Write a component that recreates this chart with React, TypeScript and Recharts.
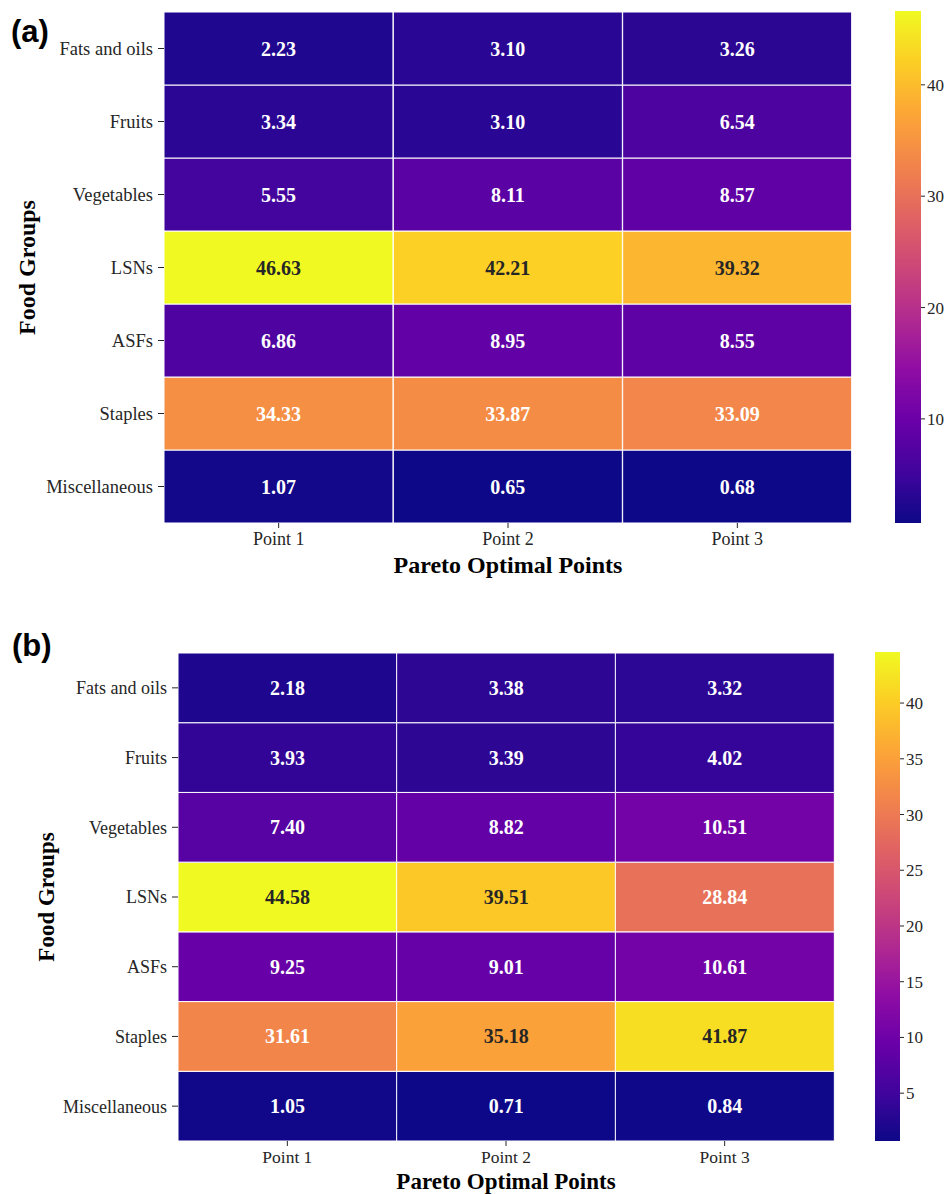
import React from 'react';
import { BarChart, Bar, XAxis, YAxis, Cell, LabelList, Label } from 'recharts';

const points = ['Point 1', 'Point 2', 'Point 3'];
const groups = ['Fats and oils', 'Fruits', 'Vegetables', 'LSNs', 'ASFs', 'Staples', 'Miscellaneous'];

// rows = food groups, columns = Point 1..3
const valuesA = [
  [2.23, 3.1, 3.26],
  [3.34, 3.1, 6.54],
  [5.55, 8.11, 8.57],
  [46.63, 42.21, 39.32],
  [6.86, 8.95, 8.55],
  [34.33, 33.87, 33.09],
  [1.07, 0.65, 0.68],
];
const valuesB = [
  [2.18, 3.38, 3.32],
  [3.93, 3.39, 4.02],
  [7.4, 8.82, 10.51],
  [44.58, 39.51, 28.84],
  [9.25, 9.01, 10.61],
  [31.61, 35.18, 41.87],
  [1.05, 0.71, 0.84],
];
const colorbarTicksA = [10, 20, 30, 40];
const colorbarTicksB = [5, 10, 15, 20, 25, 30, 35, 40];

const plasma = ['#0d0887', '#41049d', '#6a00a8', '#8f0da4', '#b12a90', '#cc4778', '#e16462', '#f2844b', '#fca636', '#fcce25', '#f0f921'];

const SERIF = '"Liberation Serif", "Times New Roman", serif';
const INK = '#262626';

const hexToRgb = (h: string) => [1, 3, 5].map((i) => parseInt(h.slice(i, i + 2), 16));

const plasmaAt = (t: number) => {
  const c = Math.max(0, Math.min(1, t)) * (plasma.length - 1);
  const i = Math.min(Math.floor(c), plasma.length - 2);
  const f = c - i;
  const a = hexToRgb(plasma[i]);
  const b = hexToRgb(plasma[i + 1]);
  return a.map((v, k) => Math.round(v + (b[k] - v) * f));
};

const luminance = (rgb: number[]) => {
  const [r, g, b] = rgb.map((c) => {
    const s = c / 255;
    return s <= 0.03928 ? s / 12.92 : Math.pow((s + 0.055) / 1.055, 2.4);
  });
  return 0.2126 * r + 0.7152 * g + 0.0722 * b;
};

const rgbStr = (c: number[]) => `rgb(${c[0]},${c[1]},${c[2]})`;

interface HeatProps {
  values: number[][];
  width: number;
  height: number;
  margin: { top: number; right: number; bottom: number; left: number };
  yAxisWidth: number;
  xAxisHeight: number;
  yTitleOffset: number;
  xTitleOffset: number;
  yTickFont: number;
  xTickFont: number;
  titleFont: number;
  xTickMargin: number;
}

const Heatmap: React.FC<HeatProps> = (p) => {
  const flat = p.values.flat();
  const vmin = Math.min(...flat);
  const vmax = Math.max(...flat);
  const colorOf = (v: number) => plasmaAt((v - vmin) / (vmax - vmin));

  const rows = points.map((pt, j) => {
    const row: Record<string, string | number> = { point: pt };
    groups.forEach((g, i) => (row[g] = p.values[i][j]));
    return row;
  });

  const renderValue = (props: any) => {
    const { x, y, width, height, value } = props;
    const c = colorOf(Number(value));
    return (
      <text
        x={Number(x) + Number(width) / 2}
        y={Number(y) + Number(height) / 2}
        textAnchor="middle"
        dominantBaseline="central"
        fill={luminance(c) > 0.408 ? INK : '#ffffff'}
        fontFamily={SERIF}
        fontWeight="bold"
        fontSize={20}
      >
        {Number(value).toFixed(2)}
      </text>
    );
  };

  return (
    <BarChart width={p.width} height={p.height} data={rows} margin={p.margin} barCategoryGap={0} barGap={0}>
      <XAxis
        dataKey="point"
        height={p.xAxisHeight}
        axisLine={false}
        tickSize={5}
        tickMargin={p.xTickMargin}
        tickLine={{ stroke: INK }}
        tick={{ fill: INK, fontSize: p.xTickFont, fontFamily: SERIF }}
      >
        <Label
          value="Pareto Optimal Points"
          position="insideBottom"
          offset={p.xTitleOffset}
          style={{ fontFamily: SERIF, fontWeight: 'bold', fontSize: p.titleFont, fill: '#000' }}
        />
      </XAxis>
      <YAxis
        type="number"
        domain={[0, groups.length]}
        ticks={groups.map((_, i) => i + 0.5)}
        tickFormatter={(v: number) => groups[groups.length - 1 - Math.floor(v)]}
        width={p.yAxisWidth}
        axisLine={false}
        tickSize={6}
        tickMargin={5}
        tickLine={{ stroke: INK }}
        tick={{ fill: INK, fontSize: p.yTickFont, fontFamily: SERIF }}
      >
        <Label
          value="Food Groups"
          angle={-90}
          position="insideLeft"
          offset={p.yTitleOffset}
          style={{ fontFamily: SERIF, fontWeight: 'bold', fontSize: p.titleFont, fill: '#000', textAnchor: 'middle' }}
        />
      </YAxis>
      {[...groups].reverse().map((g) => (
        <Bar key={g} dataKey={() => 1} stackId="cells" isAnimationActive={false}>
          {rows.map((r, j) => (
            <Cell key={j} fill={rgbStr(colorOf(Number(r[g])))} stroke="#ffffff" strokeWidth={1} />
          ))}
          <LabelList dataKey={g} content={renderValue} />
        </Bar>
      ))}
    </BarChart>
  );
};

interface BarProps {
  values: number[][];
  ticks: number[];
  id: string;
  height: number;
  top: number;
  barWidth: number;
}

const Colorbar: React.FC<BarProps> = ({ values, ticks, id, height, top, barWidth }) => {
  const flat = values.flat();
  const vmin = Math.min(...flat);
  const vmax = Math.max(...flat);
  const data = [{ name: 'cb', range: [vmin, vmax] }];
  return (
    <BarChart width={barWidth + 40} height={height} data={data} margin={{ top, right: 0, bottom: 0, left: 0 }} barCategoryGap={0}>
      <defs>
        <linearGradient id={id} x1="0" y1="1" x2="0" y2="0">
          {plasma.map((c, i) => (
            <stop key={i} offset={`${(i / (plasma.length - 1)) * 100}%`} stopColor={c} />
          ))}
        </linearGradient>
      </defs>
      <XAxis dataKey="name" hide />
      <YAxis
        type="number"
        orientation="right"
        domain={[vmin, vmax]}
        ticks={ticks}
        width={40}
        axisLine={false}
        tickSize={4}
        tickMargin={2}
        tickLine={{ stroke: INK }}
        tick={{ fill: INK, fontSize: 17, fontFamily: SERIF }}
      />
      <Bar dataKey="range" fill={`url(#${id})`} isAnimationActive={false} />
    </BarChart>
  );
};

const panelLabel: React.CSSProperties = {
  position: 'absolute',
  fontFamily: '"Liberation Sans", Arial, sans-serif',
  fontWeight: 'bold',
  fontSize: 31,
  lineHeight: 1,
  color: '#000',
};

export default function App() {
  return (
    <div style={{ position: 'absolute', left: 0, top: 0, width: 952, height: 1194, background: '#fff', overflow: 'hidden' }}>
      <div style={{ ...panelLabel, left: 11, top: 16 }}>(a)</div>
      <div style={{ position: 'absolute', left: 0, top: 0 }}>
        <Heatmap
          values={valuesA}
          width={860}
          height={600}
          margin={{ top: 12, right: 8, bottom: 0, left: 0 }}
          yAxisWidth={164}
          xAxisHeight={77}
          yTitleOffset={26}
          xTitleOffset={27}
          yTickFont={18.5}
          xTickFont={18}
          titleFont={24}
          xTickMargin={4}
        />
      </div>
      <div style={{ position: 'absolute', left: 895, top: 0 }}>
        <Colorbar values={valuesA} ticks={colorbarTicksA} id="plasmaA" height={523} top={11} barWidth={26} />
      </div>

      <div style={{ ...panelLabel, left: 12, top: 630 }}>(b)</div>
      <div style={{ position: 'absolute', left: 0, top: 640 }}>
        <Heatmap
          values={valuesB}
          width={842}
          height={554}
          margin={{ top: 13, right: 8, bottom: 0, left: 0 }}
          yAxisWidth={178}
          xAxisHeight={53}
          yTitleOffset={46}
          xTitleOffset={5}
          yTickFont={18}
          xTickFont={17.5}
          titleFont={23}
          xTickMargin={5}
        />
      </div>
      <div style={{ position: 'absolute', left: 875, top: 640 }}>
        <Colorbar values={valuesB} ticks={colorbarTicksB} id="plasmaB" height={501} top={12} barWidth={25} />
      </div>
    </div>
  );
}
